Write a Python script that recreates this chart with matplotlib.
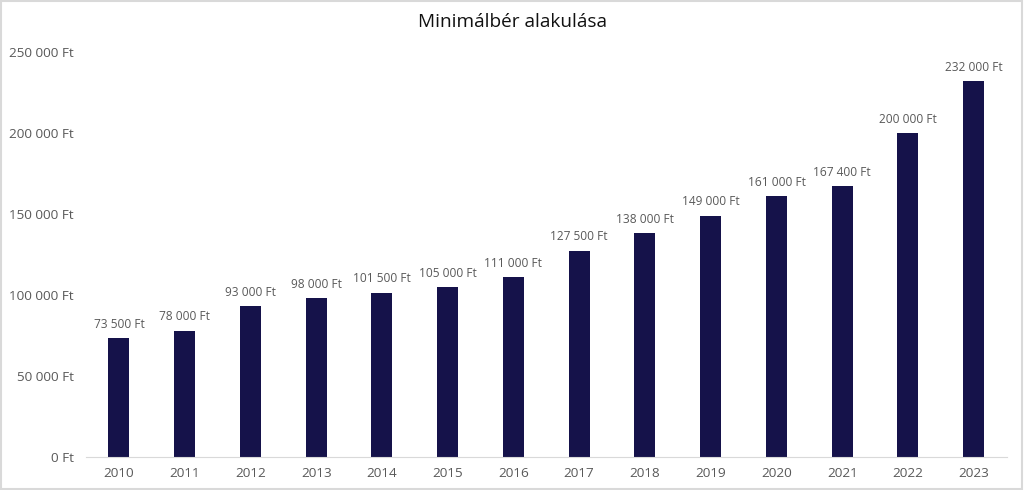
import matplotlib.pyplot as plt
from matplotlib.patches import Rectangle

plt.rcParams['font.family'] = ['Open Sans', 'DejaVu Sans']

# ============================================
# Data
# ============================================

years = ["2010", "2011", "2012", "2013", "2014", "2015", "2016",
         "2017", "2018", "2019", "2020", "2021", "2022", "2023"]

wages = [73500, 78000, 93000, 98000, 101500, 105000, 111000,
         127500, 138000, 149000, 161000, 167400, 200000, 232000]

y_ticks = [0, 50000, 100000, 150000, 200000, 250000]


def fmt(v):
    return f"{v:,}".replace(",", " ") + " Ft"


# ============================================
# Plot
# ============================================

fig = plt.figure(figsize=(10.24, 4.9), dpi=100)
ax = fig.add_axes([0.084, 0.067, 0.899, 0.827])

bars = ax.bar(years, wages, width=0.32, color="#15124a")

for b, v in zip(bars, wages):
    ax.text(b.get_x() + b.get_width() / 2, v + 4500, fmt(v),
            ha="center", va="bottom", fontsize=8.6, color="#595959")

ax.set_ylim(0, 250000)
ax.set_xlim(-0.5, len(years) - 0.5)
ax.set_yticks(y_ticks)
ax.set_yticklabels([fmt(t) for t in y_ticks])

ax.tick_params(axis="y", length=0, pad=9, labelsize=9.7, labelcolor="#595959")
ax.tick_params(axis="x", length=0, pad=7, labelsize=9.7, labelcolor="#595959")

for s in ["top", "right", "left"]:
    ax.spines[s].set_visible(False)
ax.spines["bottom"].set_color("#d9d9d9")

fig.text(0.5, 0.955, "Minimálbér alakulása", ha="center", va="center",
         fontsize=13.7, color="#111111")

fig.patches.append(Rectangle((0.001, 0.002), 0.997, 0.995, transform=fig.transFigure,
                             fill=False, edgecolor="#d9d9d9", linewidth=1.5))

fig.savefig("out.png", dpi=100)
